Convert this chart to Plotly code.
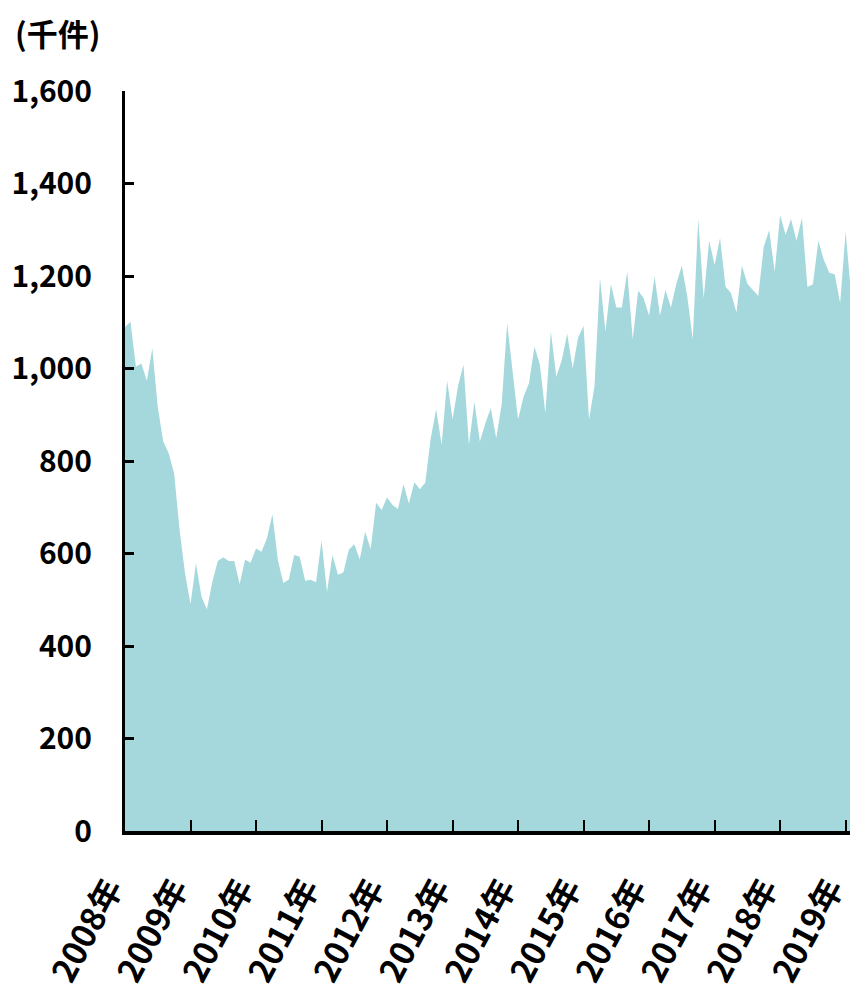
import plotly.graph_objects as go

# Monthly values (thousand cases), Jan 2008 .. Feb 2019
start_year = 2008
counts = [
    1090, 1101, 1004, 1011, 973, 1044, 917, 842, 817, 773, 651, 557,   # 2008
    491, 579, 507, 479, 539, 584, 592, 584, 584, 534, 587, 580,        # 2009
    611, 604, 633, 685, 586, 536, 544, 597, 593, 541, 543, 538,        # 2010
    628, 517, 597, 554, 559, 608, 620, 587, 647, 609, 710, 694,        # 2011
    721, 705, 696, 750, 708, 754, 739, 753, 849, 912, 835, 974,        # 2012
    890, 962, 1008, 835, 928, 842, 881, 914, 849, 923, 1098, 997,      # 2013
    890, 939, 968, 1047, 1008, 903, 1080, 982, 1018, 1075, 1000, 1067, # 2014
    1092, 889, 962, 1197, 1080, 1182, 1132, 1132, 1209, 1063, 1168, 1152,  # 2015
    1114, 1199, 1114, 1170, 1132, 1184, 1222, 1155, 1063, 1323, 1152, 1277,  # 2016
    1224, 1282, 1177, 1163, 1121, 1222, 1183, 1170, 1157, 1263, 1299, 1209,  # 2017
    1332, 1289, 1323, 1276, 1326, 1176, 1182, 1276, 1235, 1207, 1204, 1141,  # 2018
    1296, 1159,                                                        # 2019
]
years = list(range(2008, 2020))
year_labels = [f"{y}年" for y in years]
y_ticks = [0, 200, 400, 600, 800, 1000, 1200, 1400, 1600]
unit_label = "(千件)"

month_index = list(range(len(counts)))
year_tick_pos = [(y - start_year) * 12 for y in years]

FONT = "Noto Sans CJK JP"
W, H = 850, 995
L, R, T, B = 125, 0, 91, 164

fig = go.Figure()
fig.add_trace(go.Scatter(
    x=month_index, y=counts, mode="lines", fill="tozeroy",
    line=dict(width=0, color="rgb(165,216,220)"),
    fillcolor="rgb(165,216,220)", hoverinfo="skip", showlegend=False,
    cliponaxis=True,
))

fig.update_layout(
    width=W, height=H,
    margin=dict(l=L, r=R, t=T, b=B, autoexpand=False),
    paper_bgcolor="white", plot_bgcolor="white",
    font=dict(family=FONT, color="black"),
    xaxis=dict(
        range=[0, 132.8], showgrid=False, zeroline=False, automargin=False,
        showline=True, linecolor="black", linewidth=4,
        ticks="inside", ticklen=11, tickwidth=2, tickcolor="black",
        tickvals=year_tick_pos, ticktext=year_labels, tickangle=-62,
        tickfont=dict(family=FONT, size=33, weight="bold", color="black"),
        ticklabelstandoff=21, ticklabelshift=-16, ticklabeloverflow="allow",
    ),
    yaxis=dict(
        range=[0, 1600], showgrid=False, zeroline=False, automargin=False,
        showline=True, linecolor="black", linewidth=3,
        ticks="inside", ticklen=9, tickwidth=3, tickcolor="black",
        tickvals=y_ticks, tickformat=",d",
        tickfont=dict(family=FONT, size=30, weight="bold", color="black"),
        ticklabelstandoff=24,
    ),
)

plot_w = W - L - R
plot_h = H - T - B
fig.add_annotation(
    text=unit_label, xref="paper", yref="paper",
    x=(13 - L) / plot_w, y=1 + (T - 33) / plot_h,
    xanchor="left", yanchor="middle", showarrow=False,
    font=dict(family=FONT, size=31, weight="bold", color="black"),
)

# remove the default 8px page margin so the 850x995 figure fills the window exactly
fig.write_html(
    "out.html",
    config={"displayModeBar": False, "staticPlot": True},
    post_script="document.body.style.margin='0';document.body.style.overflow='hidden';",
)
